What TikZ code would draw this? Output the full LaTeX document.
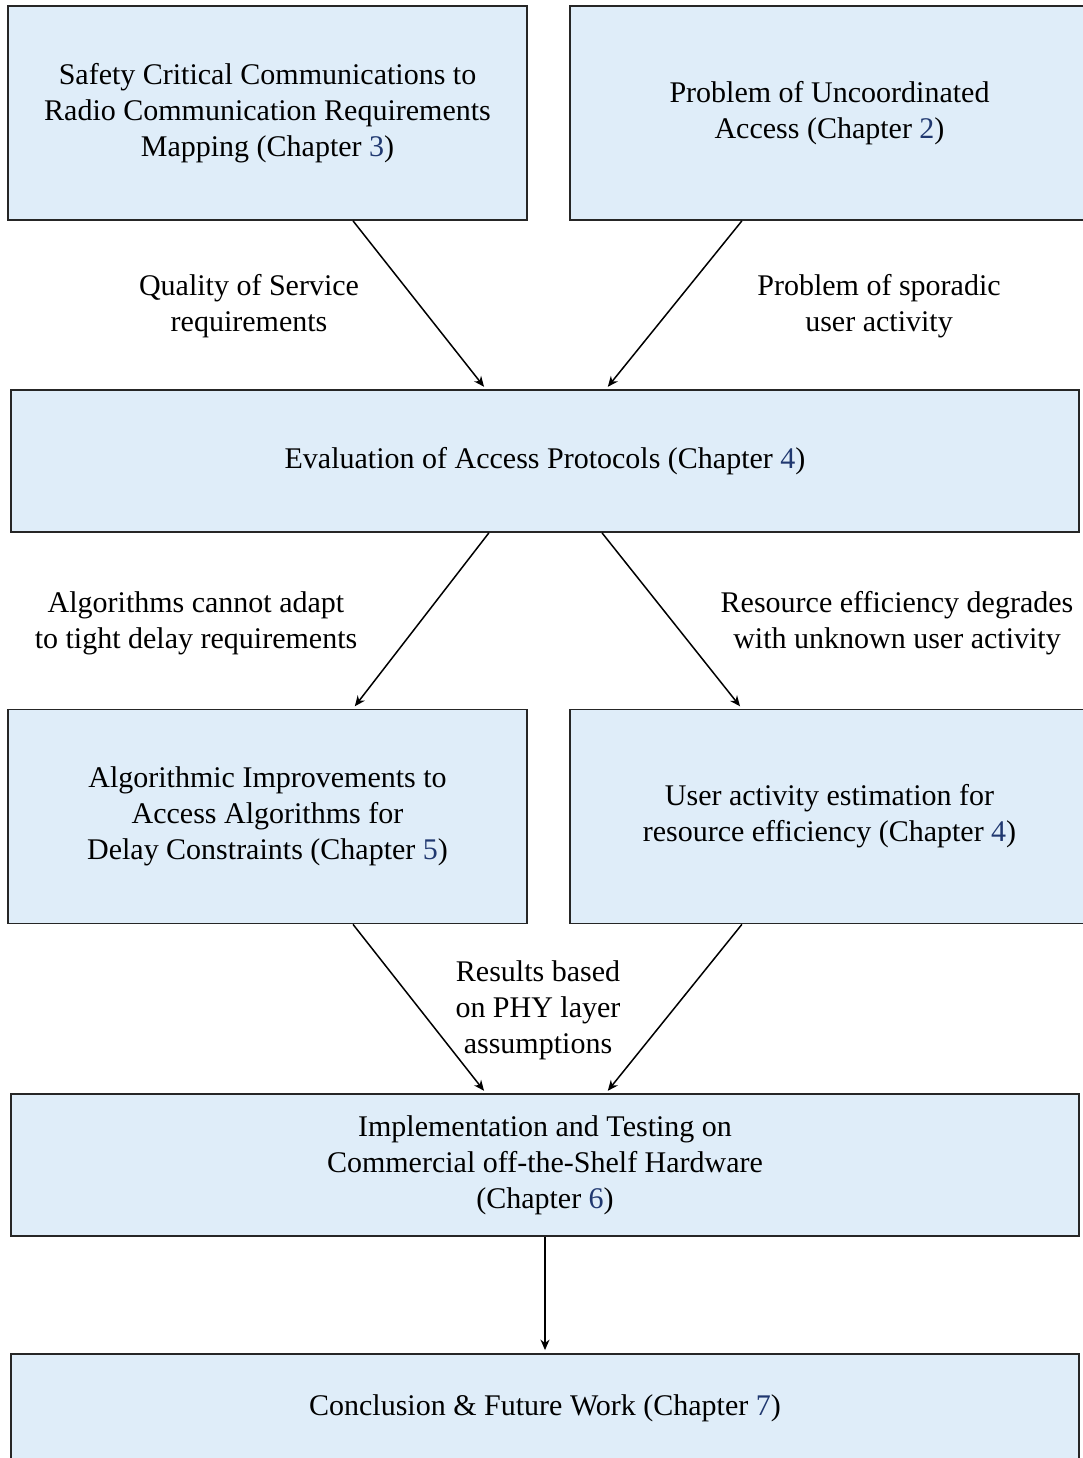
\documentclass[tikz,border=0pt]{standalone}
\usepackage{fontspec}
\setmainfont{Liberation Serif}
\usepackage{xcolor}
\usetikzlibrary{arrows.meta,positioning}

\definecolor{boxblue}{RGB}{223,237,249}
\definecolor{chapblue}{RGB}{32,56,112}
\newcommand{\chapref}[1]{\textcolor{chapblue}{#1}}

\begin{document}
\begin{tikzpicture}[x=0.3333pt, y=-0.3333pt, -{Stealth[length=3.5pt,width=3pt]}, shorten >=1pt, line width=0.5pt]

    \tikzstyle{block}=[draw=black!85, fill=boxblue, align=center, inner sep=0pt, line width=0.6pt]
    \tikzstyle{halfblock}=[block, minimum width=173pt, minimum height=71.3pt]
    \tikzstyle{fullblock}=[block, minimum width=356pt, minimum height=47.3pt]
    \tikzstyle{note}=[align=center, inner sep=0pt]

    \useasboundingbox (0,0) rectangle (1083,1458);

    \node[halfblock] (SAFETY) at (267.5,113) {Safety Critical Communications to\\Radio Communication Requirements\\Mapping (Chapter \chapref{3})};
    \node[halfblock] (UNCOORD) at (829.5,113) {Problem of Uncoordinated\\Access (Chapter \chapref{2})};
    \node[fullblock] (EVAL) at (545,461) {Evaluation of Access Protocols (Chapter \chapref{4})};
    \node[halfblock] (ALGO) at (267.5,816.5) {Algorithmic Improvements to\\Access Algorithms for\\Delay Constraints (Chapter \chapref{5})};
    \node[halfblock] (ESTIM) at (829.5,816.5) {User activity estimation for\\resource efficiency (Chapter \chapref{4})};
    \node[fullblock] (IMPL) at (545,1165) {Implementation and Testing on\\Commercial off-the-Shelf Hardware\\(Chapter \chapref{6})};
    \node[fullblock, minimum height=36pt] (CONCL) at (545,1408) {Conclusion \& Future Work (Chapter \chapref{7})};

    \node[note] (QOS) at (249,306) {Quality of Service\\requirements};
    \node[note] (SPORADIC) at (879,306) {Problem of sporadic\\user activity};
    \node[note] (ADAPT) at (196,623) {Algorithms cannot adapt\\to tight delay requirements};
    \node[note] (DEGRADE) at (897,623) {Resource efficiency degrades\\with unknown user activity};
    \node[note] (PHY) at (538,1010) {Results based\\on PHY layer\\assumptions};

    \path ([xshift=28.5pt]SAFETY.south) edge ([xshift=-19.7pt]EVAL.north);
    \path ([xshift=-29.2pt]UNCOORD.south) edge ([xshift=20.3pt]EVAL.north);
    \path ([xshift=-18.7pt]EVAL.south) edge ([xshift=28.5pt]ALGO.north)
          ([xshift=19pt]EVAL.south) edge ([xshift=-29.2pt]ESTIM.north);
    \path ([xshift=28.5pt]ALGO.south) edge ([xshift=-19.7pt]IMPL.north);
    \path ([xshift=-29.2pt]ESTIM.south) edge ([xshift=20.3pt]IMPL.north);
    \path (IMPL) edge (CONCL);

\end{tikzpicture}
\end{document}
